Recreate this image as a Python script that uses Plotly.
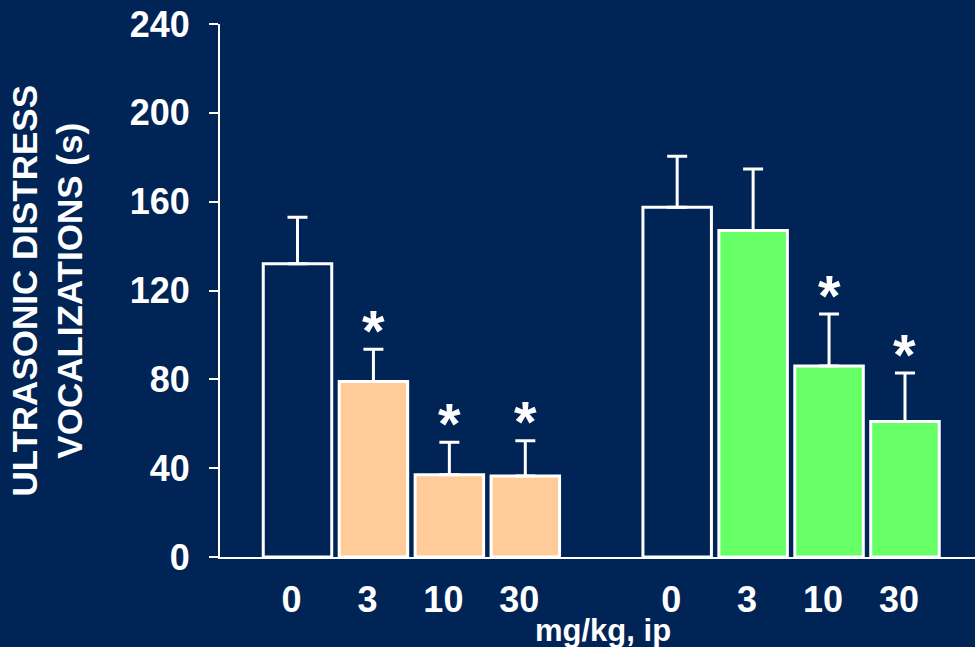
import plotly.graph_objects as go

BG = "rgb(0,36,86)"
FONT = "Liberation Sans, Arial, sans-serif"

doses = ["0", "3", "10", "30"]
x_group1 = [0, 1, 2, 3]
x_group2 = [5, 6, 7, 8]
vals_group1 = [132, 79, 37, 36.5]
err_group1 = [21, 14.5, 14.7, 15.8]
vals_group2 = [157.5, 147, 86, 61]
err_group2 = [23, 27.7, 23.4, 21.8]
sig_group1 = [False, True, True, True]
sig_group2 = [False, False, True, True]
colors_group1 = [BG, "#FFCC99", "#FFCC99", "#FFCC99"]
colors_group2 = [BG, "#66FF66", "#66FF66", "#66FF66"]
y_ticks = [0, 40, 80, 120, 160, 200, 240]

fig = go.Figure()
for xs, vs, es, cs in [(x_group1, vals_group1, err_group1, colors_group1),
                       (x_group2, vals_group2, err_group2, colors_group2)]:
    fig.add_trace(go.Bar(
        x=xs, y=vs, width=0.902,
        marker=dict(color=cs, line=dict(color="white", width=3)),
        error_y=dict(type="data", symmetric=False, array=es,
                     arrayminus=[0] * len(es), color="white",
                     thickness=3, width=10),
        showlegend=False,
    ))

for xs, vs, es, sg in [(x_group1, vals_group1, err_group1, sig_group1),
                       (x_group2, vals_group2, err_group2, sig_group2)]:
    for x, v, e, s in zip(xs, vs, es, sg):
        if s:
            fig.add_annotation(x=x, y=v + e, text="*", showarrow=False,
                               xref="x", yref="y", yanchor="middle",
                               yshift=19,
                               font=dict(family=FONT, size=58, color="white",
                                         weight="bold"))

fig.add_annotation(text="ULTRASONIC DISTRESS<br>VOCALIZATIONS (s)",
                   xref="paper", yref="paper", x=-0.229, y=0.5,
                   textangle=-90, showarrow=False, align="center",
                   xanchor="center", yanchor="middle",
                   font=dict(family=FONT, size=35, color="white", weight="bold"))
fig.add_annotation(text="mg/kg, ip", xref="paper", yref="paper",
                   x=0.507, y=-0.137, showarrow=False,
                   xanchor="center", yanchor="middle",
                   font=dict(family=FONT, size=31, color="white", weight="bold"))

fig.update_layout(
    width=975, height=647,
    margin=dict(l=220, r=0, t=24, b=90),
    paper_bgcolor=BG, plot_bgcolor=BG,
    barmode="overlay",
    xaxis=dict(range=[-1.0205, 8.922], tickvals=x_group1 + x_group2,
               ticktext=doses + doses, showgrid=False, zeroline=False,
               showline=True, linecolor="white", linewidth=2,
               ticks="", ticklabelstandoff=10, ticklabelshift=-6,
               tickfont=dict(family=FONT, size=36, color="white", weight="bold")),
    yaxis=dict(range=[0, 240], tickvals=y_ticks, showgrid=False,
               zeroline=False, showline=True, linecolor="white", linewidth=2,
               ticks="outside", ticklen=9, tickwidth=2, tickcolor="white",
               ticklabelstandoff=12,
               tickfont=dict(family=FONT, size=36, color="white", weight="bold")),
)

fig.write_html("out.html")
